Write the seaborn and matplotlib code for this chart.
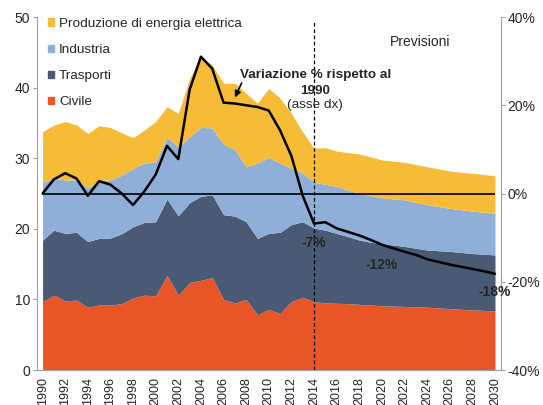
import matplotlib
matplotlib.use("Agg")
import matplotlib.pyplot as plt
import matplotlib.patches as mpatches
import seaborn as sns
import pandas as pd

# dati (Mt CO2 per settore, 1990-2030)
anni = list(range(1990, 2031))
civile = [9.7, 10.6, 9.8, 9.9, 8.9, 9.2, 9.2, 9.4, 10.2, 10.6, 10.5, 13.4, 10.6, 12.4, 12.7,
          13.1, 10.0, 9.5, 10.0, 7.8, 8.6, 8.0, 9.7, 10.3, 9.7, 9.5, 9.45, 9.4, 9.3, 9.2,
          9.1, 9.05, 9.0, 8.95, 8.9, 8.8, 8.7, 8.6, 8.5, 8.45, 8.35]
trasporti = [8.7, 9.2, 9.55, 9.6, 9.3, 9.45, 9.5, 9.9, 10.1, 10.3, 10.5, 10.8, 11.25, 11.3, 11.9,
             11.7, 12.0, 12.3, 11.0, 10.85, 10.75, 11.5, 10.9, 10.7, 10.4, 10.3, 9.9, 9.5, 9.1, 8.9,
             8.8, 8.65, 8.5, 8.3, 8.1, 8.1, 8.1, 8.05, 8.0, 7.95, 7.95]
industria = [8.2, 7.35, 7.55, 7.4, 7.6, 8.25, 8.2, 8.3, 8.25, 8.4, 8.5, 8.75, 9.75, 9.35, 9.75,
             9.5, 10.0, 9.4, 7.8, 10.65, 10.75, 9.8, 7.95, 6.9, 6.5, 6.5, 6.65, 6.6, 6.6, 6.6,
             6.5, 6.55, 6.6, 6.5, 6.4, 6.25, 6.1, 6.05, 6.0, 5.95, 5.9]
produzione = [7.15, 7.55, 8.3, 7.8, 7.7, 7.7, 7.45, 6.0, 4.35, 4.7, 5.7, 4.35, 4.75, 8.25, 9.95,
              8.9, 8.6, 9.4, 10.4, 8.5, 9.8, 9.2, 7.8, 5.8, 4.8, 5.2, 5.0, 5.3, 5.6, 5.5,
              5.35, 5.35, 5.3, 5.35, 5.4, 5.35, 5.3, 5.3, 5.35, 5.35, 5.3]
# variazione % rispetto al 1990 (asse destro)
variazione = [0.0, 3.2, 4.6, 3.4, -0.5, 2.8, 2.0, 0.0, -2.6, 0.5, 4.3, 10.8, 7.8, 23.5, 31.0,
              28.3, 20.6, 20.4, 20.0, 19.6, 18.8, 14.3, 8.5, -0.5, -6.8, -6.5, -7.9, -8.7, -9.5, -10.5,
              -11.6, -12.4, -13.2, -13.9, -14.9, -15.5, -16.1, -16.6, -17.1, -17.6, -18.2]

settori = ["Civile", "Trasporti", "Industria", "Produzione di energia elettrica"]
colori = ["#E85628", "#4A5A74", "#8FAFD8", "#F7BC37"]

df = pd.DataFrame({"anno": anni, "variazione": variazione})

sns.set_style("white")
plt.rcParams["font.family"] = ["Liberation Sans", "DejaVu Sans"]
plt.rcParams["font.size"] = 10

fig = plt.figure(figsize=(5.43, 4.05), dpi=100)
ax = fig.add_axes([0.068, 0.0864, 0.854, 0.8716])

ax.stackplot(anni, civile, trasporti, industria, produzione, colors=colori, linewidth=0)
ax.set_xlim(1989.5, 2030.5)
ax.set_ylim(0, 50)
ax.set_yticks(range(0, 51, 10))
ax.set_xticks(range(1990, 2031, 2))
ax.set_xticks(range(1990, 2031), minor=True)
ax.set_xticklabels([str(a) for a in range(1990, 2031, 2)], rotation=90, fontsize=9)

ax2 = ax.twinx()
ax2.set_ylim(-40, 40)
ax2.set_yticks([-40, -20, 0, 20, 40])
ax2.set_yticklabels(["-40%", "-20%", "0%", "20%", "40%"])
ax2.hlines(0, anni[0], anni[-1], color="black", lw=1.2)
sns.lineplot(data=df, x="anno", y="variazione", ax=ax2, color="black", lw=1.8)
ax2.set_xlim(1989.5, 2030.5)
ax2.set_xlabel("")
ax2.set_ylabel("")
ax2.vlines(2014, -40, 38.8, color="black", lw=0.9, ls=(0, (3, 2)))

for a in (ax, ax2):
    for s in a.spines.values():
        s.set_color("#A0A0A0")
    a.spines["top"].set_visible(False)
    a.tick_params(axis="both", which="both", direction="out", length=3, color="#A0A0A0",
                  labelsize=10, pad=2)
ax.spines["right"].set_visible(False)
ax2.spines["left"].set_visible(False)
ax.tick_params(axis="x", labelsize=9)

# legenda
handles = [mpatches.Patch(color=c, label=l) for c, l in zip(colori[::-1], settori[::-1])]
ax.legend(handles=handles, loc="upper left", frameon=False, handlelength=0.45, handleheight=0.45,
          handletextpad=0.35, labelspacing=1.05, borderaxespad=0, borderpad=0, fontsize=9.7,
          bbox_to_anchor=(0.089, 0.956), bbox_transform=fig.transFigure)

ax2.text(2023.4, 34.4, "Previsioni", fontsize=10, ha="center", va="center")
ax2.text(2014.1, 26.9, "Variazione % rispetto al", fontsize=9.7, fontweight="bold",
         ha="center", va="center")
ax2.text(2014.1, 23.3, "1990", fontsize=9.7, fontweight="bold", ha="center", va="center")
ax2.text(2014.1, 20.1, "(asse dx)", fontsize=9.7, ha="center", va="center")
ax2.annotate("", xy=(2006.9, 21.2), xytext=(2007.7, 25.6),
             arrowprops=dict(arrowstyle="-|>", color="black", lw=1.2, mutation_scale=9))
ax2.text(2014.0, -11.3, "-7%", fontsize=10, fontweight="bold", ha="center", va="center")
ax2.text(2019.95, -16.2, "-12%", fontsize=10, fontweight="bold", ha="center", va="center")
ax2.text(2029.95, -22.3, "-18%", fontsize=10, fontweight="bold", ha="center", va="center")

fig.savefig("out.png", dpi=100)
